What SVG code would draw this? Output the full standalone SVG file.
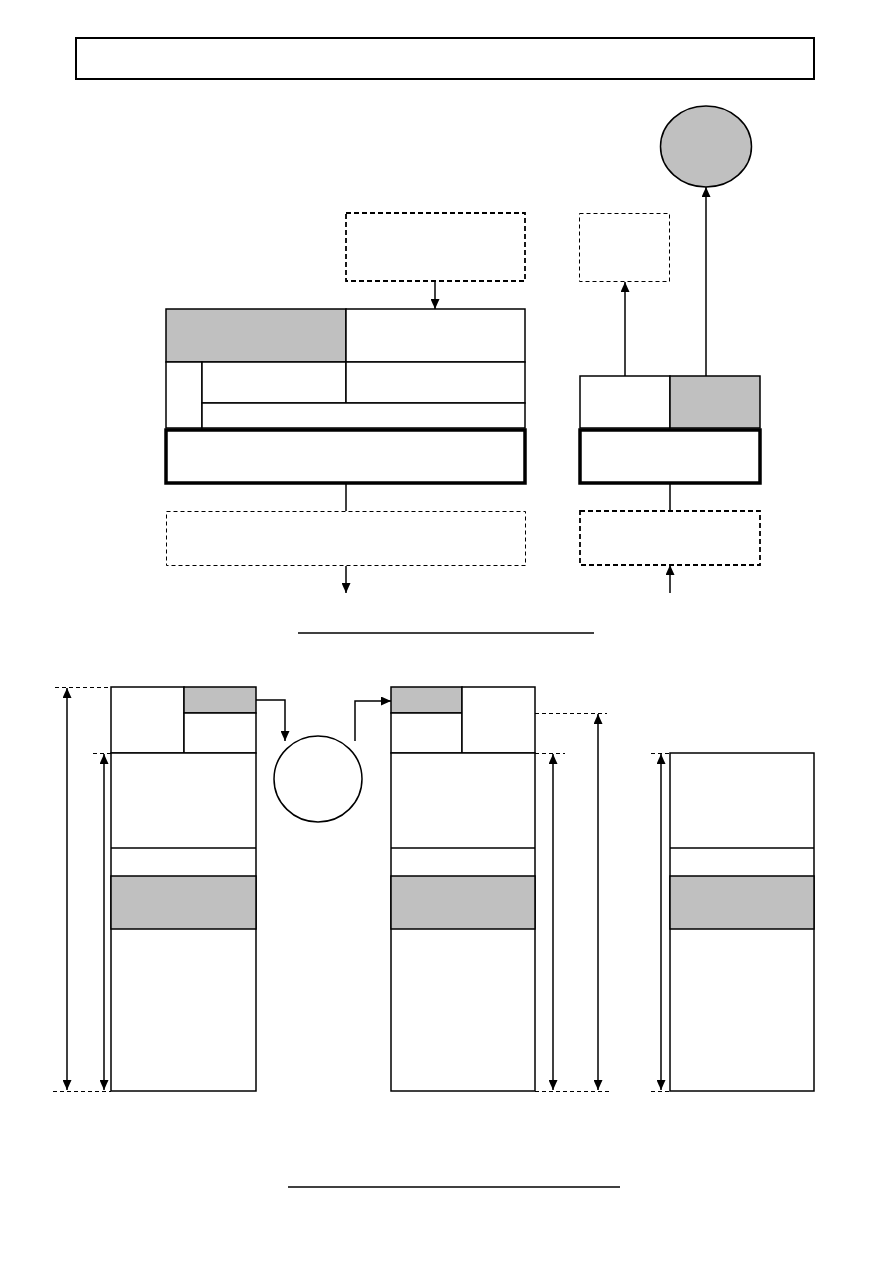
<svg xmlns="http://www.w3.org/2000/svg" width="893" height="1263" viewBox="0 0 893 1263">
<style>
.b{fill:#fff;stroke:#000;stroke-width:1.5}
.g{fill:#c0c0c0;stroke:#000;stroke-width:1.5}
.t{fill:#fff;stroke:#000;stroke-width:3.5}
.d{fill:#fff;stroke:#000;stroke-width:1;stroke-dasharray:4,3}
.d2{fill:#fff;stroke:#000;stroke-width:1.8;stroke-dasharray:5,3}
.l{fill:none;stroke:#000;stroke-width:1.5}
.dl{fill:none;stroke:#000;stroke-width:1;stroke-dasharray:4,3}
.a{fill:none;stroke:#000;stroke-width:1.5;marker-end:url(#ah)}
.a2{fill:none;stroke:#000;stroke-width:1.5;marker-start:url(#ahs);marker-end:url(#ah)}
</style>
<defs>
<marker id="ah" viewBox="0 0 10 10" refX="10" refY="5" markerWidth="10" markerHeight="9" markerUnits="userSpaceOnUse" orient="auto" preserveAspectRatio="none"><path d="M0,0 L10,5 L0,10 Z" fill="#000"/></marker>
<marker id="ahs" viewBox="0 0 10 10" refX="0" refY="5" markerWidth="10" markerHeight="9" markerUnits="userSpaceOnUse" orient="auto" preserveAspectRatio="none"><path d="M10,0 L0,5 L10,10 Z" fill="#000"/></marker>
</defs>
<rect width="893" height="1263" fill="#fff"/>

<g id="title"><rect x="76" y="38" width="738" height="41" fill="#fff" stroke="#000" stroke-width="2"/></g>

<g id="upper-left">
<rect id="dashA" class="d2" x="346" y="213" width="179" height="68"/>
<rect class="g" x="166" y="309" width="180" height="53"/>
<rect class="b" x="346" y="309" width="179" height="53"/>
<rect class="b" x="166" y="362" width="36" height="66"/>
<rect class="b" x="202" y="362" width="144" height="41"/>
<rect class="b" x="346" y="362" width="179" height="41"/>
<rect class="b" x="202" y="403" width="323" height="25"/>
<rect id="thickL" class="t" x="166" y="430" width="359" height="53"/>
<rect id="dashB" class="d" x="166.5" y="511.5" width="359" height="54"/>
</g>

<g id="upper-right">
<ellipse id="oval" class="g" cx="706" cy="146.5" rx="45.5" ry="40.5"/>
<rect id="dashC" class="d" x="579.5" y="213.5" width="90" height="68"/>
<rect class="b" x="580" y="376" width="90" height="52"/>
<rect class="g" x="670" y="376" width="90" height="52"/>
<rect id="thickR" class="t" x="580" y="430" width="180" height="53"/>
<rect id="dashD" class="d2" x="580" y="511" width="180" height="54"/>
</g>

<g id="underlines">
<line class="l" x1="298" y1="633" x2="594" y2="633"/>
<line class="l" x1="288" y1="1187" x2="620" y2="1187"/>
</g>

<g id="col1">
<rect class="b" x="111" y="687" width="73" height="66"/>
<rect class="g" x="184" y="687" width="72" height="26"/>
<rect class="b" x="184" y="713" width="72" height="40"/>
<rect class="b" x="111" y="753" width="145" height="338"/>
<line class="l" x1="111" y1="848" x2="256" y2="848"/>
<rect class="g" x="111" y="876" width="145" height="53"/>
</g>

<g id="circle"><ellipse class="b" cx="318" cy="779" rx="44" ry="43"/></g>

<g id="col2">
<rect class="g" x="391" y="687" width="71" height="26"/>
<rect class="b" x="391" y="713" width="71" height="40"/>
<rect class="b" x="462" y="687" width="73" height="66"/>
<rect class="b" x="391" y="753" width="144" height="338"/>
<line class="l" x1="391" y1="848" x2="535" y2="848"/>
<rect class="g" x="391" y="876" width="144" height="53"/>
</g>

<g id="col3">
<rect class="b" x="670" y="753" width="144" height="338"/>
<line class="l" x1="670" y1="848" x2="814" y2="848"/>
<rect class="g" x="670" y="876" width="144" height="53"/>
</g>

<g id="connectors">
<line class="a" x1="435" y1="281" x2="435" y2="309"/>
<line class="l" x1="346" y1="483" x2="346" y2="511"/>
<line class="a" x1="346" y1="566" x2="346" y2="593"/>
<line class="a" x1="625" y1="376" x2="625" y2="282"/>
<line class="a" x1="706" y1="376" x2="706" y2="187"/>
<line class="l" x1="670" y1="483" x2="670" y2="511"/>
<line class="a" x1="670" y1="593" x2="670" y2="565"/>
<path class="a" d="M256,700 H285 V741"/>
<path class="a" d="M355,741 V701 H391"/>
<line class="dl" x1="55" y1="687.5" x2="111" y2="687.5"/>
<line class="dl" x1="93" y1="753.5" x2="111" y2="753.5"/>
<line class="dl" x1="53" y1="1091.5" x2="111" y2="1091.5"/>
<line class="a2" x1="67" y1="688" x2="67" y2="1090"/>
<line class="a2" x1="104" y1="754" x2="104" y2="1090"/>
<line class="dl" x1="535" y1="753.5" x2="565" y2="753.5"/>
<line class="dl" x1="535" y1="713.5" x2="607" y2="713.5"/>
<line class="dl" x1="535" y1="1091.5" x2="612" y2="1091.5"/>
<line class="a2" x1="553" y1="754" x2="553" y2="1090"/>
<line class="a2" x1="598" y1="714" x2="598" y2="1090"/>
<line class="dl" x1="651" y1="753.5" x2="670" y2="753.5"/>
<line class="dl" x1="651" y1="1091.5" x2="670" y2="1091.5"/>
<line class="a2" x1="661" y1="754" x2="661" y2="1090"/>
</g>
</svg>
